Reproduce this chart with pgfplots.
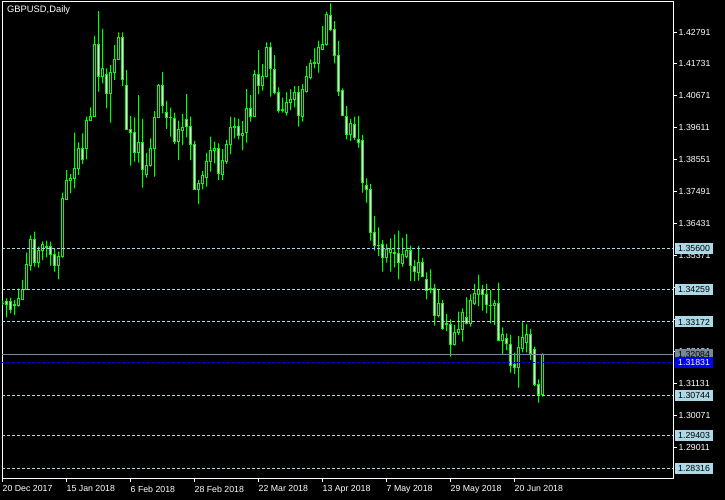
\documentclass[border=0pt]{standalone}
\usepackage{fontspec}
\setmainfont{Liberation Sans}
\usepackage{pgfplots}
\usepackage{pgfplotstable}
\pgfplotsset{compat=1.18}

\definecolor{cgreen}{RGB}{0,255,0}
\definecolor{lvl}{RGB}{173,216,230}
\definecolor{bidgray}{RGB}{119,136,153}
\definecolor{mblue}{RGB}{0,0,255}

% daily GBPUSD candles: bar index, open, high, low, close
\pgfplotstableread{
i o h l c
0 1.33788 1.33877 1.33733 1.33790
1 1.33844 1.33954 1.33324 1.33755
2 1.33844 1.33976 1.33457 1.33589
3 1.33733 1.33899 1.33401 1.33766
4 1.33733 1.34275 1.33678 1.33954
5 1.33932 1.34563 1.33899 1.34253
6 1.34253 1.35470 1.34253 1.35082
7 1.35038 1.36045 1.34872 1.35912
8 1.35890 1.36166 1.35005 1.35138
9 1.35149 1.35669 1.34972 1.35525
10 1.35525 1.35846 1.35226 1.35746
11 1.35669 1.35868 1.35315 1.35647
12 1.35669 1.35835 1.35038 1.35414
13 1.35414 1.35613 1.34839 1.35038
14 1.35038 1.35503 1.34585 1.35359
15 1.35337 1.37460 1.35304 1.37261
16 1.37250 1.38212 1.37217 1.37870
17 1.37870 1.38080 1.37438 1.37936
18 1.37936 1.39451 1.37604 1.38268
19 1.38268 1.39130 1.38047 1.38942
20 1.38942 1.39429 1.38412 1.38566
21 1.38931 1.39982 1.38566 1.39860
22 1.39860 1.40292 1.39849 1.39993
23 1.39993 1.42659 1.39982 1.42393
24 1.42393 1.43488 1.40812 1.41309
25 1.41309 1.42891 1.41088 1.41586
26 1.41387 1.41586 1.40259 1.40756
27 1.40756 1.41696 1.39783 1.41453
28 1.41453 1.42360 1.41199 1.41884
29 1.41884 1.42780 1.41862 1.42614
30 1.42614 1.42780 1.40999 1.41221
31 1.41022 1.41530 1.39540 1.39562
32 1.39562 1.40004 1.38356 1.39451
33 1.39462 1.39960 1.38489 1.38799
34 1.38799 1.40701 1.38456 1.39130
35 1.39130 1.39905 1.37626 1.38235
36 1.38069 1.38777 1.37958 1.38367
37 1.38367 1.39263 1.38323 1.38931
38 1.38931 1.40170 1.37991 1.39960
39 1.39960 1.41066 1.39949 1.41022
40 1.41022 1.41464 1.40093 1.40358
41 1.40126 1.40502 1.39573 1.39960
42 1.39960 1.40281 1.39318 1.39938
43 1.39927 1.40115 1.39075 1.39153
44 1.39153 1.39849 1.38544 1.39540
45 1.39529 1.40071 1.39042 1.39639
46 1.39894 1.40734 1.39296 1.39650
47 1.39672 1.39982 1.38544 1.39064
48 1.39075 1.39175 1.37571 1.37582
49 1.37582 1.37881 1.37084 1.37781
50 1.37759 1.38179 1.37571 1.38035
51 1.37958 1.38777 1.37659 1.38511
52 1.38489 1.39318 1.38157 1.38865
53 1.38854 1.39153 1.38434 1.38931
54 1.38931 1.39097 1.37881 1.38102
55 1.38069 1.38909 1.37881 1.38522
56 1.38489 1.39208 1.38412 1.39075
57 1.39075 1.39982 1.38743 1.39628
58 1.39639 1.39960 1.39263 1.39661
59 1.39650 1.39905 1.39230 1.39352
60 1.39363 1.39838 1.38876 1.39429
61 1.39451 1.40900 1.39119 1.40259
62 1.40259 1.40701 1.39816 1.39982
63 1.39982 1.41530 1.39982 1.41387
64 1.41387 1.42194 1.40734 1.41011
65 1.41011 1.41730 1.40845 1.41309
66 1.41309 1.42448 1.41287 1.42283
67 1.42283 1.42448 1.40646 1.41586
68 1.41553 1.42028 1.40723 1.40789
69 1.40789 1.40955 1.40115 1.40181
70 1.40192 1.40612 1.40115 1.40225
71 1.40115 1.40789 1.40015 1.40458
72 1.40458 1.40889 1.40203 1.40557
73 1.40557 1.40999 1.40292 1.40789
74 1.40789 1.40999 1.39650 1.40015
75 1.39982 1.41066 1.39816 1.40889
76 1.40812 1.41663 1.40778 1.41309
77 1.41276 1.41884 1.41221 1.41752
78 1.41752 1.42249 1.41586 1.41763
79 1.41752 1.42504 1.41442 1.42283
80 1.42227 1.42990 1.42194 1.42382
81 1.42382 1.43466 1.42338 1.43377
82 1.43355 1.43742 1.42824 1.42858
83 1.42880 1.43156 1.41752 1.42006
84 1.42028 1.42493 1.40668 1.40812
85 1.40834 1.40922 1.40004 1.40015
86 1.40004 1.40336 1.39230 1.39374
87 1.39374 1.39905 1.39175 1.39761
88 1.39728 1.39982 1.39208 1.39285
89 1.39230 1.40004 1.38953 1.39119
90 1.39175 1.39374 1.37460 1.37792
91 1.37693 1.37936 1.37129 1.37549
92 1.37582 1.37748 1.35868 1.36133
93 1.36144 1.36686 1.35536 1.35702
94 1.35724 1.36310 1.35359 1.35702
95 1.35746 1.35890 1.34839 1.35304
96 1.35304 1.35757 1.35138 1.35580
97 1.35470 1.35945 1.34839 1.35580
98 1.35481 1.36078 1.34983 1.35447
99 1.35447 1.36200 1.34585 1.35138
100 1.35116 1.35967 1.35005 1.35425
101 1.35337 1.36089 1.35282 1.35558
102 1.35558 1.35702 1.34529 1.35038
103 1.35027 1.35226 1.34529 1.34839
104 1.34806 1.35691 1.34541 1.35149
105 1.35149 1.35304 1.34651 1.34673
106 1.34585 1.34817 1.33921 1.34209
107 1.34253 1.34917 1.34120 1.34275
108 1.34286 1.34430 1.33047 1.33401
109 1.33380 1.34231 1.33324 1.33789
110 1.33789 1.33899 1.32904 1.32937
111 1.33103 1.33435 1.32871 1.33081
112 1.33092 1.33258 1.32019 1.32428
113 1.32428 1.33070 1.32384 1.32827
114 1.32816 1.33512 1.32738 1.32926
115 1.32926 1.33623 1.32517 1.33490
116 1.33324 1.33988 1.33092 1.33125
117 1.33125 1.34087 1.33015 1.33866
118 1.33767 1.34430 1.33734 1.34121
119 1.34087 1.34729 1.33700 1.34231
120 1.34231 1.34397 1.33546 1.34087
121 1.34065 1.34430 1.33457 1.33734
122 1.33722 1.34231 1.33125 1.33711
123 1.33711 1.33899 1.33070 1.33767
124 1.33767 1.34475 1.32539 1.32570
125 1.32570 1.32993 1.32108 1.32760
126 1.32628 1.32793 1.32240 1.32440
127 1.32428 1.32738 1.31488 1.31721
128 1.31743 1.32152 1.31444 1.31654
129 1.31654 1.32705 1.30991 1.32329
130 1.32274 1.33158 1.32163 1.32661
131 1.32495 1.33092 1.32163 1.32760
132 1.32760 1.32937 1.31909 1.32108
133 1.32263 1.32351 1.31046 1.31079
134 1.31101 1.31267 1.30493 1.30747
135 1.30747 1.32130 1.30692 1.32084
}\candles

\pgfplotsset{
  chartbox/.style={
    at={(2bp,22bp)}, anchor=south west,
    scale only axis, width=671bp, height=476bp,
    xmin=-0.125, xmax=167.625, ymin=1.27993, ymax=1.43787,
  },
  level/.style={line width=1bp, dash pattern=on 3bp off 2bp},
}

\begin{document}
\begin{tikzpicture}[font=\fontsize{8.8}{10}\selectfont]
\fill[black] (0,0) rectangle (725bp,500bp);

% frame, price scale and dates
\begin{axis}[
  chartbox,
  axis line style={white, line width=1bp},
  tick style={white, line width=1bp},
  major tick length=4bp, tick align=outside,
  xtick pos=left, ytick pos=right,
  xtick={-0.125,15.875,31.875,47.875,63.875,79.875,95.875,111.875,127.875},
  xticklabels={20 Dec 2017,15 Jan 2018,6 Feb 2018,28 Feb 2018,22 Mar 2018,13 Apr 2018,7 May 2018,29 May 2018,20 Jun 2018},
  ytick={1.42791,1.41731,1.40671,1.39611,1.38551,1.37491,1.36431,1.35371,1.34311,1.33251,1.32191,1.31131,1.30071,1.29011},
  yticklabels={1.42791,1.41731,1.40671,1.39611,1.38551,1.37491,1.36431,1.35371,1.34311,1.33251,1.32191,1.31131,1.30071,1.29011},
  xticklabel style={white, anchor=north west, inner sep=0pt, xshift=0.5bp, yshift=-3.5bp},
  yticklabel style={white, anchor=west, inner sep=0pt, xshift=1.5bp},
]
\addplot[draw=none] coordinates {(0,1.33)};
\end{axis}

% wicks: invisible bar up to the low, then the high-low range
\begin{axis}[chartbox, hide axis, ybar stacked, bar width=1bp]
\addplot[draw=none, fill=none] table[x=i, y=l] {\candles};
\addplot[draw=none, fill=cgreen] table[x=i, y expr={\thisrow{h}-\thisrow{l}}] {\candles};
\end{axis}

% bodies: invisible bar up to the body, then bull (hollow) or bear (white)
\begin{axis}[chartbox, hide axis, ybar stacked, bar width=2bp]
\addplot[draw=none, fill=none] table[x=i, y expr={min(\thisrow{o},\thisrow{c})}] {\candles};
\addplot[draw=cgreen, fill=black, line width=1bp] table[x=i, y expr={max(\thisrow{c}-\thisrow{o},0)}] {\candles};
\addplot[draw=cgreen, fill=white, line width=1bp] table[x=i, y expr={max(\thisrow{o}-\thisrow{c},0)}] {\candles};
\end{axis}

% horizontal levels
\begin{axis}[chartbox, hide axis]
\addplot[lvl, level] coordinates {(-0.125,1.35600) (167.625,1.35600)};
\addplot[lvl, level] coordinates {(-0.125,1.34259) (167.625,1.34259)};
\addplot[lvl, level] coordinates {(-0.125,1.33172) (167.625,1.33172)};
\addplot[lvl, level] coordinates {(-0.125,1.30744) (167.625,1.30744)};
\addplot[lvl, level] coordinates {(-0.125,1.29403) (167.625,1.29403)};
\addplot[lvl, level] coordinates {(-0.125,1.28316) (167.625,1.28316)};
\addplot[bidgray, line width=1bp] coordinates {(-0.125,1.32084) (167.625,1.32084)};
\addplot[mblue, level] coordinates {(-0.125,1.31831) (167.625,1.31831)};

\coordinate (r1) at (axis cs:167.625,1.35600);
\coordinate (r2) at (axis cs:167.625,1.34259);
\coordinate (r3) at (axis cs:167.625,1.33172);
\coordinate (r4) at (axis cs:167.625,1.30744);
\coordinate (r5) at (axis cs:167.625,1.29403);
\coordinate (r6) at (axis cs:167.625,1.28316);
\coordinate (rb) at (axis cs:167.625,1.32084);
\coordinate (ra) at (axis cs:167.625,1.31831);
\end{axis}

\tikzset{plabel/.style={anchor=west, text=black, inner xsep=3bp, inner ysep=2.4bp, text height=6.3bp, text depth=0pt, xshift=2bp}}
\node[plabel, fill=lvl] at (r1) {1.35600};
\node[plabel, fill=lvl] at (r2) {1.34259};
\node[plabel, fill=lvl] at (r3) {1.33172};
\node[plabel, fill=lvl] at (r4) {1.30744};
\node[plabel, fill=lvl] at (r5) {1.29403};
\node[plabel, fill=lvl] at (r6) {1.28316};
\node[plabel, fill=bidgray] at (rb) {1.32084};
\node[plabel, fill=mblue, text=white] at (ra) {1.31831};

\node[anchor=north west, white, inner sep=0pt, font=\fontsize{9.4}{11}\selectfont] at (7bp,494bp) {GBPUSD,Daily};

\pgfresetboundingbox
\path[use as bounding box] (0,0) rectangle (725bp,500bp);
\end{tikzpicture}
\end{document}
